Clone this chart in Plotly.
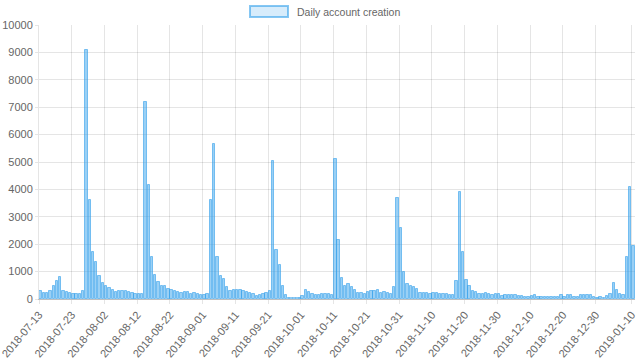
import pandas as pd
import plotly.graph_objects as go

start_date = "2018-07-13"
values = [
    290, 230, 230, 290, 470, 650, 790, 290, 250, 230,
    180, 190, 170, 280, 9100, 3600, 1720, 1360, 840, 600,
    490, 410, 320, 260, 310, 310, 280, 260, 230, 170,
    170, 190, 7200, 4150, 1530, 880, 630, 480, 480, 350,
    340, 300, 265, 220, 240, 240, 170, 220, 190, 145,
    145, 180, 3600, 5650, 1550, 840, 720, 430, 300, 330,
    330, 320, 300, 240, 230, 180, 100, 145, 170, 220,
    290, 5050, 1800, 1240, 470, 130, 35, 25, 25, 25,
    110, 340, 250, 190, 145, 145, 170, 200, 200, 140,
    5120, 2150, 750, 470, 530, 430, 325, 220, 220, 170,
    240, 290, 290, 325, 220, 265, 230, 190, 445, 3700,
    2600, 1000, 540, 480, 430, 370, 230, 230, 230, 180,
    220, 220, 170, 170, 190, 145, 145, 670, 3920, 1700,
    690, 480, 300, 250, 190, 165, 205, 165, 150, 165,
    190, 105, 130, 155, 150, 140, 110, 115, 85, 90,
    120, 145, 60, 65, 70, 70, 70, 70, 90, 145,
    70, 130, 145, 60, 70, 130, 130, 130, 130, 85,
    45, 60, 40, 95, 170, 590, 330, 200, 160, 1550,
    4080, 1950,
]
dates = pd.date_range(start_date, periods=len(values), freq="D").strftime("%Y-%m-%d").tolist()

tick_labels = [
    "2018-07-13", "2018-07-23", "2018-08-02", "2018-08-12", "2018-08-22",
    "2018-09-01", "2018-09-11", "2018-09-21", "2018-10-01", "2018-10-11",
    "2018-10-21", "2018-10-31", "2018-11-10", "2018-11-20", "2018-11-30",
    "2018-12-10", "2018-12-20", "2018-12-30", "2019-01-10",
]
series_name = "Daily account creation"

DAY_MS = 86400000
GRID = "rgba(0,0,0,0.1)"
FONT = "Liberation Sans, Arial, sans-serif"

fig = go.Figure()
fig.add_trace(go.Bar(
    x=dates, y=values, name=series_name,
    xperiod=DAY_MS, xperiodalignment="middle",
    width=0.72 * DAY_MS,
    marker=dict(color="rgba(54,162,235,0.5)",
                line=dict(color="rgba(54,162,235,0.6)", width=1)),
    showlegend=False,
))

W, H = 640, 361
ml, mr, mt, mb = 39, 5, 25, 62
pw, ph = W - ml - mr, H - mt - mb

def px_x(p):
    return (p - ml) / pw

def px_y(p):
    return (H - mb - p) / ph

fig.add_shape(type="rect", xref="paper", yref="paper",
              x0=px_x(250), x1=px_x(288), y0=px_y(17), y1=px_y(6),
              fillcolor="rgba(54,162,235,0.2)",
              line=dict(color="rgba(54,162,235,0.6)", width=2))
fig.add_annotation(xref="paper", yref="paper", x=px_x(295), y=px_y(11.5),
                   xanchor="left", yanchor="middle", showarrow=False,
                   text=series_name, font=dict(family=FONT, size=10.5, color="#666"))

fig.update_layout(
    width=W, height=H,
    margin=dict(l=ml, r=mr, t=mt, b=mb),
    plot_bgcolor="white", paper_bgcolor="white",
    bargap=0,
    font=dict(family=FONT, size=11, color="#666"),
    xaxis=dict(
        type="date",
        range=["2018-07-12 23:59", "2019-01-11"],
        tickvals=tick_labels, ticktext=tick_labels,
        tickangle=-50,
        automargin=False, ticklabeloverflow="allow",
        showgrid=True, gridcolor=GRID, gridwidth=1,
        ticks="outside", ticklen=4, tickcolor=GRID,
        showline=True, linecolor="rgba(0,0,0,0.25)", linewidth=1,
        zeroline=False,
        tickfont=dict(family=FONT, size=11, color="#666"),
    ),
    yaxis=dict(
        range=[0, 10000], dtick=1000, tickformat="d",
        automargin=False, ticklabeloverflow="allow",
        showgrid=True, gridcolor=GRID, gridwidth=1,
        ticks="outside", ticklen=3, tickcolor=GRID,
        showline=True, linecolor=GRID, linewidth=1,
        zeroline=False,
        tickfont=dict(family=FONT, size=11, color="#666"),
    ),
)

fig.write_html("out.html", config={"displayModeBar": False},
               post_script="document.body.style.margin='0px';document.body.style.overflow='hidden';")
